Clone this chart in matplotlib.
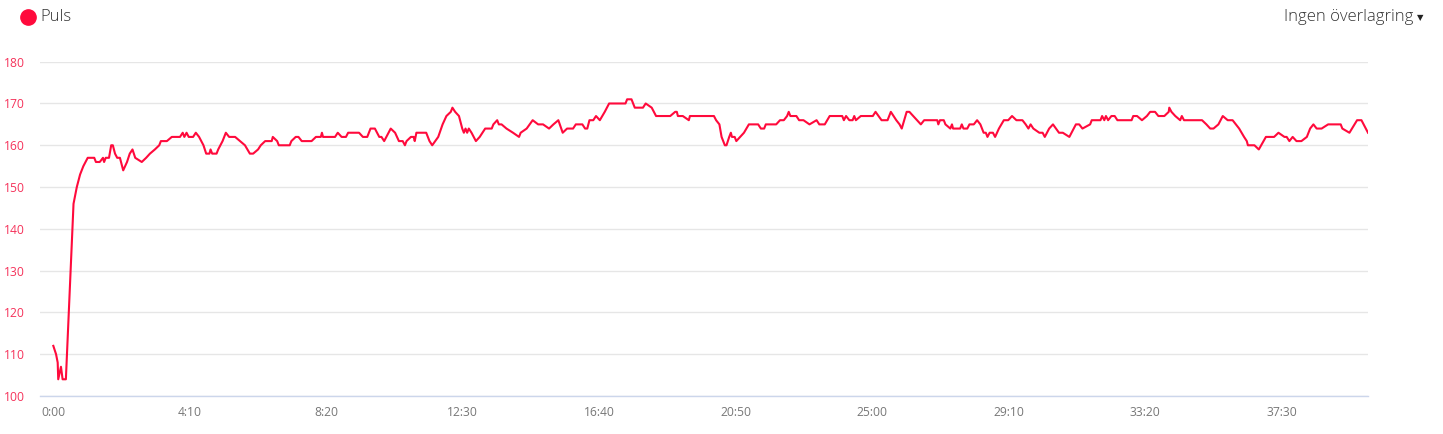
import matplotlib
matplotlib.use("Agg")
import matplotlib.pyplot as plt
from matplotlib.lines import Line2D

# Heart rate over time (seconds, bpm)
time_s = [
    0, 5, 8, 9, 14, 17, 23, 27, 31, 34, 37, 43, 49, 55, 63, 75, 78, 85, 91, 93,
    96, 102, 106, 109, 113, 117, 122, 128, 135, 140, 145, 150, 162, 170, 177, 186,
    194, 197, 208, 217, 232, 237, 240, 244, 248, 256, 261, 267, 275, 280, 286, 288,
    291, 299, 302, 310, 316, 322, 333, 342, 351, 360, 366, 375, 380, 388, 400, 402,
    410, 413, 433, 436, 444, 449, 455, 473, 481, 490, 492, 494, 516, 521, 528, 536,
    540, 560, 567, 575, 581, 589, 597, 601, 606, 618, 626, 633, 640, 644, 647, 655,
    660, 662, 665, 683, 689, 694, 705, 713, 720, 728, 731, 736, 743, 749, 752, 755,
    758, 761, 766, 774, 781, 791, 803, 806, 813, 816, 821, 830, 842, 853, 856, 867,
    878, 888, 897, 908, 916, 925, 933, 941, 952, 957, 969, 974, 978, 982, 989, 994,
    1001, 1010, 1018, 1048, 1051, 1059, 1065, 1080, 1085, 1096, 1104, 1130, 1139,
    1142, 1144, 1153, 1164, 1166, 1210, 1214, 1220, 1224, 1230, 1233, 1238, 1241,
    1243, 1248, 1251, 1258, 1265, 1274, 1291, 1296, 1302, 1305, 1324, 1331, 1338,
    1344, 1347, 1350, 1361, 1366, 1374, 1385, 1398, 1403, 1413, 1422, 1445, 1448,
    1452, 1458, 1464, 1467, 1470, 1479, 1496, 1501, 1506, 1517, 1528, 1534, 1544,
    1550, 1554, 1563, 1568, 1589, 1595, 1619, 1621, 1624, 1631, 1634, 1643, 1646,
    1648, 1661, 1664, 1667, 1674, 1678, 1686, 1692, 1698, 1704, 1708, 1711, 1715,
    1721, 1725, 1732, 1741, 1749, 1756, 1764, 1775, 1781, 1786, 1790, 1795, 1806,
    1812, 1816, 1824, 1831, 1842, 1849, 1861, 1873, 1879, 1885, 1899, 1902, 1918,
    1921, 1925, 1928, 1932, 1938, 1944, 1949, 1975, 1978, 1985, 1994, 2003, 2009,
    2018, 2024, 2035, 2043, 2044, 2048, 2055, 2064, 2067, 2071, 2104, 2112, 2119,
    2125, 2134, 2142, 2151, 2160, 2166, 2172, 2181, 2186, 2188, 2200, 2208, 2221,
    2236, 2244, 2255, 2259, 2264, 2270, 2277, 2286, 2296, 2302, 2308, 2314, 2323,
    2335, 2358, 2361, 2374, 2388, 2396, 2408,
]
bpm = [
    112, 110, 108, 104, 107, 104, 104, 116, 128, 137, 146, 150, 153, 155, 157, 157, 156, 156, 157, 156,
    157, 157, 160, 160, 158, 157, 157, 154, 156, 158, 159, 157, 156, 157, 158, 159,
    160, 161, 161, 162, 162, 163, 162, 163, 162, 162, 163, 162, 160, 158, 158, 159,
    158, 158, 159, 161, 163, 162, 162, 161, 160, 158, 158, 159, 160, 161, 161, 162,
    161, 160, 160, 161, 162, 162, 161, 161, 162, 162, 163, 162, 162, 163, 162, 162,
    163, 163, 162, 162, 164, 164, 162, 162, 161, 164, 163, 161, 161, 160, 161, 162,
    162, 161, 163, 163, 161, 160, 162, 165, 167, 168, 169, 168, 167, 164, 163, 164,
    163, 164, 163, 161, 162, 164, 164, 165, 166, 165, 165, 164, 163, 162, 163, 164,
    166, 165, 165, 164, 165, 166, 163, 164, 164, 165, 165, 164, 164, 166, 166, 167,
    166, 168, 170, 170, 171, 171, 169, 169, 170, 169, 167, 167, 168,
    168, 167, 167, 166, 167, 167, 166, 165, 162, 160, 160, 162, 163,
    162, 162, 161, 162, 163, 165, 165, 164, 164, 165, 165, 166, 166,
    167, 168, 167, 167, 166, 166, 165, 166, 165, 165, 167, 167, 166,
    167, 166, 166, 167, 166, 167, 167, 167, 168, 166, 166, 168, 166,
    165, 164, 168, 168, 165, 166, 166, 165, 166, 166, 165, 164, 165,
    164, 164, 165, 164, 164, 165, 165, 166, 165, 163, 163, 162, 163,
    163, 162, 164, 166, 166, 167, 166, 166, 165, 164, 165, 164, 163,
    163, 162, 164, 165, 163, 163, 162, 165, 165, 164, 165, 166, 166,
    167, 166, 167, 166, 167, 167, 166, 166, 167, 167, 166, 167, 168,
    168, 167, 167, 168, 169, 168, 167, 166, 167, 166, 166, 165, 164,
    164, 165, 167, 166, 166, 165, 164, 162, 161, 160, 160, 159, 162,
    162, 163, 162, 162, 161, 162, 161, 161, 162, 164, 165, 164, 164,
    165, 165, 164, 163, 166, 166, 163,
]

y_ticks = [100, 110, 120, 130, 140, 150, 160, 170, 180]
x_ticks = [0, 250, 500, 750, 1000, 1250, 1500, 1750, 2000, 2250]
x_labels = ["0:00", "4:10", "8:20", "12:30", "16:40", "20:50", "25:00", "29:10", "33:20", "37:30"]

RED = "#ff0a3c"
W, H = 1443, 434

plt.rcParams["font.family"] = ["Open Sans", "DejaVu Sans"]

fig = plt.figure(figsize=(W / 100, H / 100), dpi=100)
ax = fig.add_axes([40 / W, (H - 396) / H, (1368 - 40) / W, (396 - 61.7) / H])

ax.plot(time_s, bpm, color=RED, linewidth=1.5, solid_joinstyle="round", zorder=3)

ax.set_xlim(-24.4, 2408)
ax.set_ylim(100, 180)
ax.set_yticks(y_ticks)
ax.set_xticks(x_ticks)
ax.set_xticklabels(x_labels)

ax.grid(axis="y", color="#e6e6e6", linewidth=1)
ax.grid(axis="x", visible=False)
for side in ["top", "right", "left"]:
    ax.spines[side].set_visible(False)
ax.spines["bottom"].set_color("#ccd6eb")
ax.spines["bottom"].set_linewidth(1)

ax.tick_params(axis="y", length=0, pad=11, labelsize=8.7, labelcolor="#f5325a")
ax.tick_params(axis="x", length=0, pad=7, labelsize=8.7, labelcolor="#777777")

# legend dot + label, overlay selector
fig.add_artist(Line2D([28 / W], [1 - 17 / H], marker="o", markersize=11,
                      color=RED, transform=fig.transFigure))
fig.text(40 / W, 1 - 17 / H, "Puls", fontsize=12, fontweight="light",
         color="#333333", va="center", ha="left")
fig.text(1413 / W, 1 - 17 / H, "Ingen överlagring", fontsize=12, fontweight="light",
         color="#333333", va="center", ha="right")
fig.text(1423 / W, 1 - 18 / H, "\u25bc", fontsize=6, color="#222222",
         family=["DejaVu Sans"], va="center", ha="right")

fig.savefig("out.png", dpi=100)
